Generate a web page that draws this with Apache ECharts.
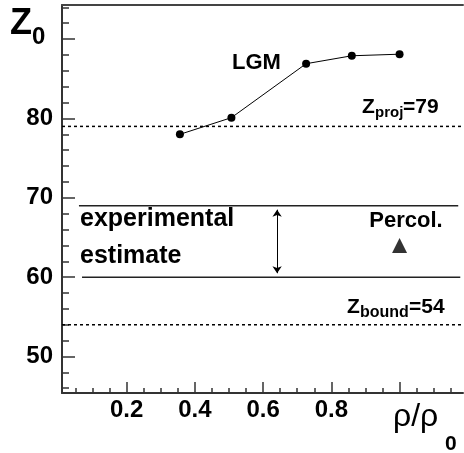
<!DOCTYPE html>
<html>
<head>
<meta charset="utf-8">
<script src="https://cdn.jsdelivr.net/npm/echarts@6/dist/echarts.min.js"></script>
<style>
    html, body { margin: 0; padding: 0; background: #fff; }
    #chart { width: 464px; height: 453px; }
</style>
</head>
<body>
<div id="chart"></div>
<script>
// LGM 计算点
const lgmX = [0.356, 0.507, 0.726, 0.86, 1.0];
const lgmZ = [78.0, 80.1, 86.9, 87.9, 88.1];

// 参考线
const zProj = 79;
const zBound = 54;
const expHigh = 69;
const expLow = 60;
const expHighX = [0.06, 1.172];
const expLowX = [0.069, 1.178];
const arrowX = 0.641;
const arrowZ = [68.5, 60.5];

// Percol. 点
const percolX = [1.0];
const percolZ = [64];

// 坐标轴范围与刻度
const xMin = 0.0103, xMax = 1.186;
const yMin = 45.4, yMax = 94.3;
const xMajorTicks = [0.2, 0.4, 0.6, 0.8, 1.0];
const xLabels = [0.2, 0.4, 0.6, 0.8];
const xMinorTicks = [0.05, 0.1, 0.15, 0.25, 0.3, 0.35, 0.45, 0.5, 0.55, 0.65, 0.7, 0.75, 0.85, 0.9, 0.95, 1.05, 1.1, 1.15];
const yMajorTicks = [50, 60, 70, 80, 90];
const yLabels = [50, 60, 70, 80];
const yMinorTicks = [46, 48, 52, 54, 56, 58, 62, 64, 66, 68, 72, 74, 76, 78, 82, 84, 86, 88, 92, 94];

const FONT = 'Liberation Sans, Arial, sans-serif';

function txt(text, x, y, size, weight, align) {
    return {
        type: 'text',
        x: x, y: y,
        silent: true,
        style: {
            text: text,
            fill: '#000',
            font: weight + ' ' + size + 'px ' + FONT,
            align: align || 'left', textAlign: align || 'left',
            verticalAlign: 'middle', textVerticalAlign: 'middle'
        }
    };
}

function init() {
    const chart = echarts.init(document.getElementById('chart'));

    const axisColor = '#333';
    const labelStyle = { color: '#000', fontWeight: 'bold', fontSize: 24, fontFamily: FONT };

    const option = {
        animation: false,
        backgroundColor: '#fff',
        grid: { left: 62, right: 1, top: 5, bottom: 60, containLabel: false },
        xAxis: [
            {
                type: 'value', min: xMin, max: xMax, position: 'bottom',
                axisLine: { show: true, lineStyle: { color: axisColor, width: 2 } },
                axisTick: { show: true, inside: true, length: 11, customValues: xMajorTicks, lineStyle: { color: axisColor, width: 1.5 } },
                axisLabel: Object.assign({ show: true, margin: 5, customValues: xLabels, formatter: v => v.toFixed(1) }, labelStyle),
                splitLine: { show: false }
            },
            {
                type: 'value', min: xMin, max: xMax, position: 'bottom',
                axisLine: { show: false },
                axisTick: { show: true, inside: true, length: 5, customValues: xMinorTicks, lineStyle: { color: axisColor, width: 1.5 } },
                axisLabel: { show: false },
                splitLine: { show: false }
            },
            {
                type: 'value', min: xMin, max: xMax, position: 'top',
                axisLine: { show: true, lineStyle: { color: '#444', width: 2 } },
                axisTick: { show: false },
                axisLabel: { show: false },
                splitLine: { show: false }
            }
        ],
        yAxis: [
            {
                type: 'value', min: yMin, max: yMax, position: 'left',
                axisLine: { show: true, lineStyle: { color: axisColor, width: 2 } },
                axisTick: { show: true, inside: true, length: 13, customValues: yMajorTicks, lineStyle: { color: axisColor, width: 1.5 } },
                axisLabel: Object.assign({ show: true, margin: 9, customValues: yLabels }, labelStyle),
                splitLine: { show: false }
            },
            {
                type: 'value', min: yMin, max: yMax, position: 'left',
                axisLine: { show: false },
                axisTick: { show: true, inside: true, length: 7, customValues: yMinorTicks, lineStyle: { color: axisColor, width: 1.5 } },
                axisLabel: { show: false },
                splitLine: { show: false }
            }
        ],
        series: [
            {
                name: 'Zproj', type: 'line', silent: true, symbol: 'none',
                data: [[xMin, zProj], [xMax, zProj]],
                lineStyle: { color: '#000', width: 1.5, type: [3, 3] }
            },
            {
                name: 'Zbound', type: 'line', silent: true, symbol: 'none',
                data: [[xMin, zBound], [xMax, zBound]],
                lineStyle: { color: '#000', width: 1.5, type: [3, 3] }
            },
            {
                name: 'expHigh', type: 'line', silent: true, symbol: 'none',
                data: expHighX.map(x => [x, expHigh]),
                lineStyle: { color: '#222', width: 1.5 }
            },
            {
                name: 'expLow', type: 'line', silent: true, symbol: 'none',
                data: expLowX.map(x => [x, expLow]),
                lineStyle: { color: '#222', width: 1.5 }
            },
            {
                name: 'arrow', type: 'lines', coordinateSystem: 'cartesian2d', silent: true,
                symbol: ['arrow', 'arrow'], symbolSize: 7,
                data: [{ coords: [[arrowX, arrowZ[0]], [arrowX, arrowZ[1]]] }],
                lineStyle: { color: '#000', width: 1, opacity: 1 }
            },
            {
                name: 'LGM', type: 'line', silent: true,
                data: lgmX.map((x, i) => [x, lgmZ[i]]),
                symbol: 'circle', symbolSize: 8,
                itemStyle: { color: '#000' },
                lineStyle: { color: '#000', width: 1 }
            },
            {
                name: 'Percol.', type: 'scatter', silent: true,
                data: percolX.map((x, i) => [x, percolZ[i]]),
                symbol: 'triangle', symbolSize: 15,
                itemStyle: { color: '#000' }
            }
        ],
        graphic: [
            txt('Z', 10, 24, 36, 'bold'),
            txt('0', 32, 37, 24, 'bold'),
            txt('LGM', 232, 63, 22, 'bold'),
            txt('Z', 362, 107.5, 21, 'bold'),
            txt('proj', 375, 113, 15, 'bold'),
            txt('=79', 403, 107.5, 21, 'bold'),
            txt('Z', 347, 307.5, 21, 'bold'),
            txt('bound', 360, 312.5, 16, 'bold'),
            txt('=54', 409, 307.5, 21, 'bold'),
            txt('Percol.', 406, 221, 22, 'bold', 'center'),
            txt('experimental', 80, 219.6, 25, 'bold'),
            txt('estimate', 80, 256.3, 25, 'bold'),
            txt('ρ/ρ', 393, 417, 32, 'normal'),
            txt('0', 445, 444.5, 21, 'bold')
        ]
    };

    chart.setOption(option);
}

document.addEventListener('DOMContentLoaded', init);
</script>
</body>
</html>
